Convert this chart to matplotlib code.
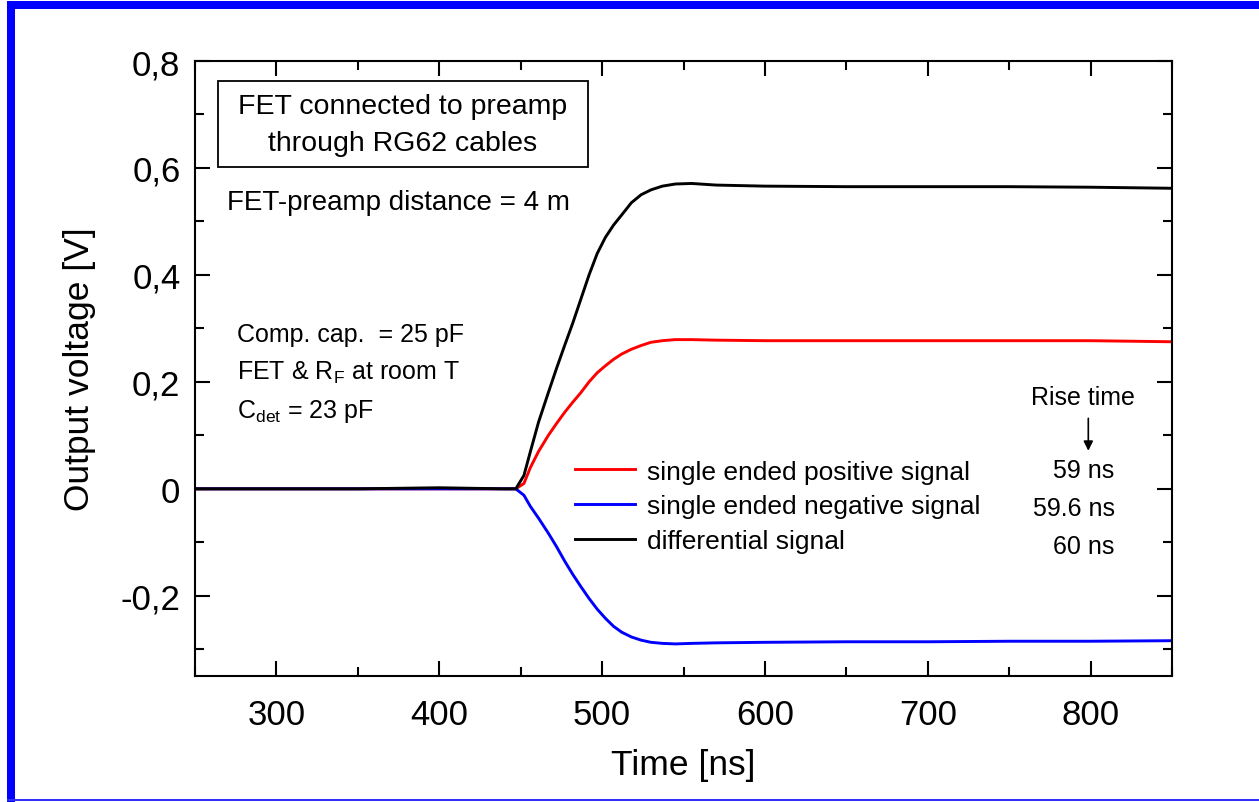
import matplotlib.pyplot as plt
from matplotlib.patches import Rectangle
from matplotlib.ticker import MultipleLocator, FuncFormatter

plt.rcParams['font.family'] = ['Liberation Sans', 'DejaVu Sans']

# sampled traces (time in ns, output in V)
time_ns = [250, 300, 350, 400, 440, 447, 452, 456, 461, 467, 472, 477, 482, 487,
           492, 497, 502, 507, 512, 518, 524, 530, 537, 545, 555, 570, 600, 650,
           700, 750, 800, 850]
pos_signal = [0.0, 0.0, 0.0, 0.0, 0.0, 0.0, 0.01, 0.04, 0.07, 0.10, 0.122, 0.143,
              0.162, 0.18, 0.20, 0.217, 0.23, 0.242, 0.252, 0.261, 0.268, 0.274,
              0.277, 0.279, 0.279, 0.278, 0.277, 0.277, 0.277, 0.277, 0.277, 0.275]
neg_signal = [0.0, 0.0, 0.0, 0.0, 0.0, 0.0, -0.012, -0.033, -0.055, -0.083, -0.108,
              -0.135, -0.16, -0.183, -0.205, -0.225, -0.242, -0.257, -0.268, -0.277,
              -0.283, -0.287, -0.289, -0.29, -0.289, -0.288, -0.287, -0.286, -0.286,
              -0.285, -0.285, -0.284]
diff_signal = [0.0, 0.0, 0.0, 0.002, 0.0, 0.0, 0.025, 0.07, 0.125, 0.18, 0.225, 0.268,
               0.31, 0.355, 0.40, 0.44, 0.47, 0.493, 0.512, 0.535, 0.55, 0.559,
               0.566, 0.57, 0.571, 0.568, 0.566, 0.565, 0.565, 0.565, 0.564, 0.562]

labels = ['single ended positive signal', 'single ended negative signal',
          'differential signal']
rise_times = ['59 ns', '59.6 ns', '60 ns']

fig = plt.figure(figsize=(12.59, 8.03), dpi=100)
ax = fig.add_axes([195 / 1259, 1 - 677 / 803, 977 / 1259, 615 / 803])

ax.plot(time_ns, pos_signal, color='#ff0000', lw=2.1, label=labels[0])
ax.plot(time_ns, neg_signal, color='#0000ff', lw=2.1, label=labels[1])
ax.plot(time_ns, diff_signal, color='black', lw=2.1, label=labels[2])

ax.set_xlim(250, 850)
ax.set_ylim(-0.35, 0.8)
ax.xaxis.set_major_locator(MultipleLocator(100))
ax.xaxis.set_minor_locator(MultipleLocator(50))
ax.yaxis.set_major_locator(MultipleLocator(0.2))
ax.yaxis.set_minor_locator(MultipleLocator(0.1))


def comma_fmt(v, pos):
    if abs(v) < 1e-9:
        return '0'
    return f'{v:.1f}'.replace('.', ',')


ax.yaxis.set_major_formatter(FuncFormatter(comma_fmt))
ax.tick_params(which='both', direction='in', top=True, right=True, width=1.5,
               labelsize=25)
ax.tick_params(axis='x', which='both', pad=16)
ax.tick_params(axis='y', which='both', pad=10.5)
ax.tick_params(which='major', length=11)
ax.tick_params(which='minor', length=6.5)
for sp in ax.spines.values():
    sp.set_linewidth(1.5)

ax.set_xlabel('Time [ns]', fontsize=25.5, labelpad=12)
ax.set_ylabel('Output voltage [V]', fontsize=25.5, labelpad=18)

# boxed note in the upper left corner
ax.add_patch(Rectangle((0.0235, 0.8276), 0.3787, 0.1398, transform=ax.transAxes,
                       fill=False, ec='black', lw=1.3))
ax.text(0.2129, 0.9268, 'FET connected to preamp', transform=ax.transAxes,
        ha='center', va='center', fontsize=20.5)
ax.text(0.2129, 0.8667, 'through RG62 cables', transform=ax.transAxes,
        ha='center', va='center', fontsize=20.5)
ax.text(0.0328, 0.7707, 'FET-preamp distance = 4 m', transform=ax.transAxes,
        ha='left', va='center', fontsize=20)
ax.text(0.043, 0.556, 'Comp. cap.  = 25 pF', transform=ax.transAxes,
        ha='left', va='center', fontsize=18)
ax.text(0.043, 0.4943, 'FET & R$_\\mathregular{F}$ at room T', transform=ax.transAxes,
        ha='left', va='center', fontsize=18)
ax.text(0.043, 0.4309, 'C$_\\mathregular{det}$ = 23 pF', transform=ax.transAxes,
        ha='left', va='center', fontsize=18)

ax.legend(loc='center left', bbox_to_anchor=(0.389, 0.276), frameon=False,
          borderpad=0, borderaxespad=0, fontsize=19, handlelength=2.27,
          handletextpad=0.45, labelspacing=0.40)

ax.text(795, 0.172, 'Rise time', ha='center', va='center', fontsize=18)
ax.annotate('', xy=(798.6, 0.066), xytext=(798.6, 0.137),
            arrowprops=dict(arrowstyle='-|>', color='black', lw=1.2,
                            mutation_scale=14))
for i, rt in enumerate(rise_times):
    ax.text(814.7, 0.0355 - i * 0.071, rt, ha='right', va='center', fontsize=18)

# blue frame around the figure
fig.add_artist(Rectangle((7 / 1259, 1 - 10 / 803), 1 - 7 / 1259, 8 / 803,
                         transform=fig.transFigure, color='#0000ff', lw=0))
fig.add_artist(Rectangle((7 / 1259, 0), 8 / 1259, 1 - 2 / 803,
                         transform=fig.transFigure, color='#0000ff', lw=0))
fig.add_artist(Rectangle((7 / 1259, 1 / 803), 1 - 7 / 1259, 2 / 803,
                         transform=fig.transFigure, color='#3030ff', lw=0))

fig.savefig('out.png', dpi=100)
